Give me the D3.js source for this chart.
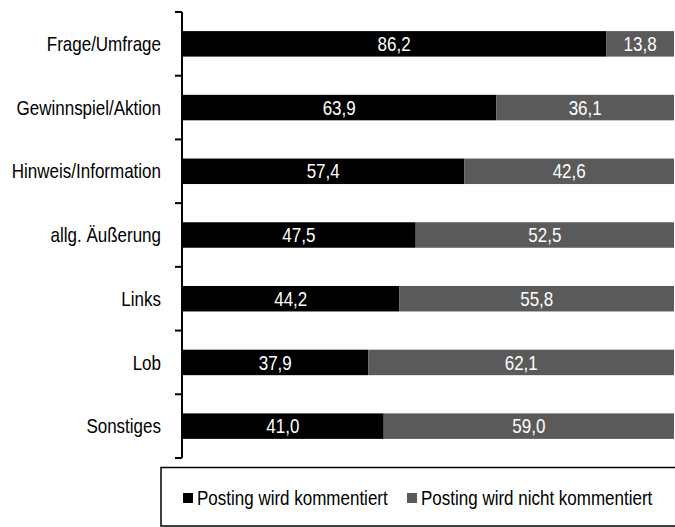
<!DOCTYPE html>
<html>
  <head>
    <script src="https://d3js.org/d3.v7.min.js"></script>
    <style>
      html,
      body {
        margin: 0;
        padding: 0;
        background: #fff;
      }
      svg text {
        font-family: "Liberation Sans", Arial, sans-serif;
        font-size: 20px;
      }
    </style>
  </head>
  <body>
    <div id="chart"></div>
    <script>
      const categories = [
        "Frage/Umfrage",
        "Gewinnspiel/Aktion",
        "Hinweis/Information",
        "allg. Äußerung",
        "Links",
        "Lob",
        "Sonstiges",
      ];
      const kommentiert = [86.2, 63.9, 57.4, 47.5, 44.2, 37.9, 41.0];
      const nichtKommentiert = [13.8, 36.1, 42.6, 52.5, 55.8, 62.1, 59.0];
      const seriesNames = ["Posting wird kommentiert", "Posting wird nicht kommentiert"];
      const colors = ["#000000", "#5a5a5a"];

      const width = 675;
      const height = 527;
      // the original font is a narrow Arial, squeeze regular text to match
      const squeeze = 0.85;

      const svg = d3
        .select("#chart")
        .append("svg")
        .attr("width", width)
        .attr("height", height);

      const x = d3.scaleLinear().domain([0, 100]).range([182, 674]);
      const y = d3
        .scaleBand()
        .domain(categories)
        .range([12, 458])
        .paddingInner(0.6)
        .paddingOuter(0.3);

      // stack the two series
      const rows = categories.map((c, i) => ({
        cat: c,
        a: kommentiert[i],
        b: nichtKommentiert[i],
      }));
      const stack = d3.stack().keys(["a", "b"])(rows);

      const layers = svg
        .selectAll("g.layer")
        .data(stack)
        .enter()
        .append("g")
        .attr("fill", (d, i) => colors[i]);

      layers
        .selectAll("rect")
        .data((d) => d)
        .enter()
        .append("rect")
        .attr("x", (d) => x(d[0]))
        .attr("y", (d) => y(d.data.cat))
        .attr("width", (d) => x(d[1]) - x(d[0]))
        .attr("height", y.bandwidth());

      layers
        .selectAll("g.val")
        .data((d) => d)
        .enter()
        .append("g")
        .attr(
          "transform",
          (d) =>
            `translate(${(x(d[0]) + x(d[1])) / 2},${y(d.data.cat) + y.bandwidth() / 2}) scale(${squeeze},1)`
        )
        .append("text")
        .attr("dy", "0.36em")
        .attr("text-anchor", "middle")
        .attr("fill", "#fff")
        .text((d) => d3.format(".1f")(d[1] - d[0]).replace(".", ","));

      // category axis with ticks between bands
      const axisG = svg.append("g");
      axisG
        .append("line")
        .attr("x1", 182)
        .attr("x2", 182)
        .attr("y1", 12)
        .attr("y2", 458)
        .attr("stroke", "#000")
        .attr("stroke-width", 2);
      axisG
        .selectAll("line.tick")
        .data(d3.range(categories.length + 1))
        .enter()
        .append("line")
        .attr("class", "tick")
        .attr("x1", 175)
        .attr("x2", 182)
        .attr("y1", (i) => 12 + i * ((458 - 12) / categories.length))
        .attr("y2", (i) => 12 + i * ((458 - 12) / categories.length))
        .attr("stroke", "#000")
        .attr("stroke-width", 2);
      axisG
        .selectAll("g.lab")
        .data(categories)
        .enter()
        .append("g")
        .attr("transform", (d) => `translate(161,${y(d) + y.bandwidth() / 2}) scale(${squeeze},1)`)
        .append("text")
        .attr("dy", "0.36em")
        .attr("text-anchor", "end")
        .attr("fill", "#000")
        .text((d) => d);

      // legend
      const legend = svg.append("g");
      legend
        .append("rect")
        .attr("x", 161)
        .attr("y", 467.5)
        .attr("width", 520)
        .attr("height", 58.5)
        .attr("fill", "none")
        .attr("stroke", "#000")
        .attr("stroke-width", 1.5);
      const legendX = [183, 407];
      const items = legend
        .selectAll("g")
        .data(seriesNames)
        .enter()
        .append("g")
        .attr("transform", (d, i) => `translate(${legendX[i]},493)`);
      items
        .append("rect")
        .attr("width", 10)
        .attr("height", 10)
        .attr("fill", (d, i) => colors[i]);
      items
        .append("g")
        .attr("transform", `translate(14,5) scale(${squeeze},1)`)
        .append("text")
        .attr("dy", "0.36em")
        .attr("fill", "#000")
        .text((d) => d);
    </script>
  </body>
</html>
